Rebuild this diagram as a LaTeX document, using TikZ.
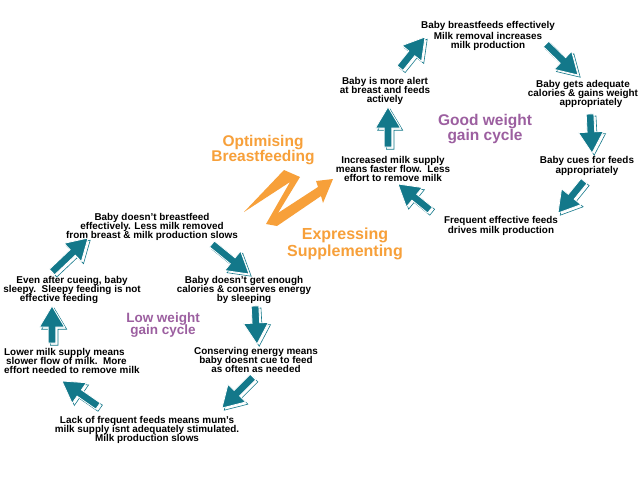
\documentclass[tikz,border=0pt]{standalone}
\usepackage{fontspec}
\setmainfont{Liberation Sans}
\usetikzlibrary{calc}
\definecolor{teal1}{HTML}{13788A}
\definecolor{orng}{HTML}{F7A03A}
\definecolor{purp}{HTML}{9C5FA0}
\newcommand\arrpoly[3]{($(#1)!3.8pt!90:(#2)+(#3)$) -- ($(#1#2h)!3.8pt!90:(#2)+(#3)$) -- ($(#1#2h)!12.5pt!90:(#2)+(#3)$) -- ($(#2)+(#3)$) -- ($(#1#2h)!12.5pt!-90:(#2)+(#3)$) -- ($(#1#2h)!3.8pt!-90:(#2)+(#3)$) -- ($(#1)!3.8pt!-90:(#2)+(#3)$) -- cycle}
\newcommand\tarrow[2]{%
  \coordinate (#1#2h) at ($(#2)!21pt!(#1)$);
  \draw[teal1, line width=0.6pt] \arrpoly{#1}{#2}{2.2,2.2};
  \filldraw[fill=teal1, draw=white, line width=0.8pt] \arrpoly{#1}{#2}{0,0};
}
\tikzset{
  txt/.style={font=\fontsize{9.9}{9.3}\selectfont\bfseries, align=center, inner sep=0},
  cyc/.style={font=\fontsize{#1}{#1}\selectfont\bfseries, align=center, inner sep=0, text=purp},
  orl/.style={font=\fontsize{15.5}{16}\selectfont\bfseries, align=center, inner sep=0, text=orng}
}
\begin{document}
\begin{tikzpicture}[x=1pt,y=-1pt]
\useasboundingbox[fill=white] (0,0) rectangle (640,480);

% ---------- good weight gain cycle ----------
\node[txt, font=\fontsize{9.9}{8.9}\selectfont\bfseries] (g1) at (488,36) {Baby breastfeeds effectively\\Milk removal increases\\milk production};
\node[txt] (g2) at (583,94) {Baby gets adequate\\calories \& gains weight\\\hspace*{16pt}appropriately};
\node[txt] (g3) at (587,166) {Baby cues for feeds\\appropriately};
\node[txt] (g4) at (501,226) {Frequent effective feeds\\drives milk production};
\node[txt] (g5) at (393,169) {Increased milk supply\\means faster flow.\ \ Less\\effort to remove milk};
\node[txt] (g6) at (385,91) {Baby is more alert\\at breast and feeds\\actively};
\node[cyc={15.5}, font=\fontsize{15.5}{13.5}\selectfont\bfseries] (gc) at (485,129) {Good weight\\gain cycle};

\coordinate (a1s) at (400,68);  \coordinate (a1e) at (425,37);
\coordinate (a2s) at (546,44);  \coordinate (a2e) at (578,75);
\coordinate (a3s) at (590,114); \coordinate (a3e) at (592,153);
\coordinate (a4s) at (584,181); \coordinate (a4e) at (558,213);
\coordinate (a5s) at (430,210); \coordinate (a5e) at (398,184);
\coordinate (a6s) at (388,147); \coordinate (a6e) at (388,107);
\tarrow{a1s}{a1e}
\tarrow{a2s}{a2e}
\tarrow{a3s}{a3e}
\tarrow{a4s}{a4e}
\tarrow{a5s}{a5e}
\tarrow{a6s}{a6e}

% ---------- low weight gain cycle ----------
\node[txt] (l1) at (152,227) {Baby doesn't breastfeed\\effectively. Less milk removed\\from breast \& milk production slows};
\node[txt] (l2) at (244,290) {Baby doesn't get enough\\calories \& conserves energy\\by sleeping};
\node[txt] (l3) at (256,360) {Conserving energy means\\baby doesnt cue to feed\\as often as needed};
\node[txt] (l4) at (147,430) {Lack of frequent feeds means mum's\\milk supply isnt adequately stimulated.\\Milk production slows};
\node[txt, align=left, anchor=west] (l5) at (4,361) {Lower milk supply means\\\hspace*{2pt}slower flow of milk.\ \ More\\effort needed to remove milk};
\node[txt] (l6) at (72,290) {Even after cueing, baby\\sleepy.\ \ Sleepy feeding is not\\effective feeding\hspace*{26pt}};
\node[cyc={13.5}, font=\fontsize{13.5}{12.7}\selectfont\bfseries] (lc) at (163,325) {Low weight\\gain cycle};

\coordinate (b1s) at (52,272);  \coordinate (b1e) at (88,238);
\coordinate (b2s) at (212,244); \coordinate (b2e) at (249,274);
\coordinate (b3s) at (255,306); \coordinate (b3e) at (257,344);
\coordinate (b4s) at (253,377); \coordinate (b4e) at (222,408);
\coordinate (b5s) at (98,406);  \coordinate (b5e) at (62,381);
\coordinate (b6s) at (52,343);  \coordinate (b6e) at (52,306);
\tarrow{b1s}{b1e}
\tarrow{b2s}{b2e}
\tarrow{b3s}{b3e}
\tarrow{b4s}{b4e}
\tarrow{b5s}{b5e}
\tarrow{b6s}{b6e}

% ---------- orange zigzag ----------
\node[orl, font=\fontsize{15.5}{14.5}\selectfont\bfseries] (opt) at (263,150) {Optimising\\Breastfeeding};
\node[orl, font=\fontsize{16}{17.5}\selectfont\bfseries] (exp) at (345,244) {Expressing\\Supplementing};
\fill[orng] (244,212) -- (284,170) -- (300,177) -- (278,213) -- (318,187) -- (316,181)
  -- (333,179) -- (323,203) -- (321,196) -- (277,226) -- (266,224) -- (290,182) -- cycle;
\end{tikzpicture}
\end{document}
